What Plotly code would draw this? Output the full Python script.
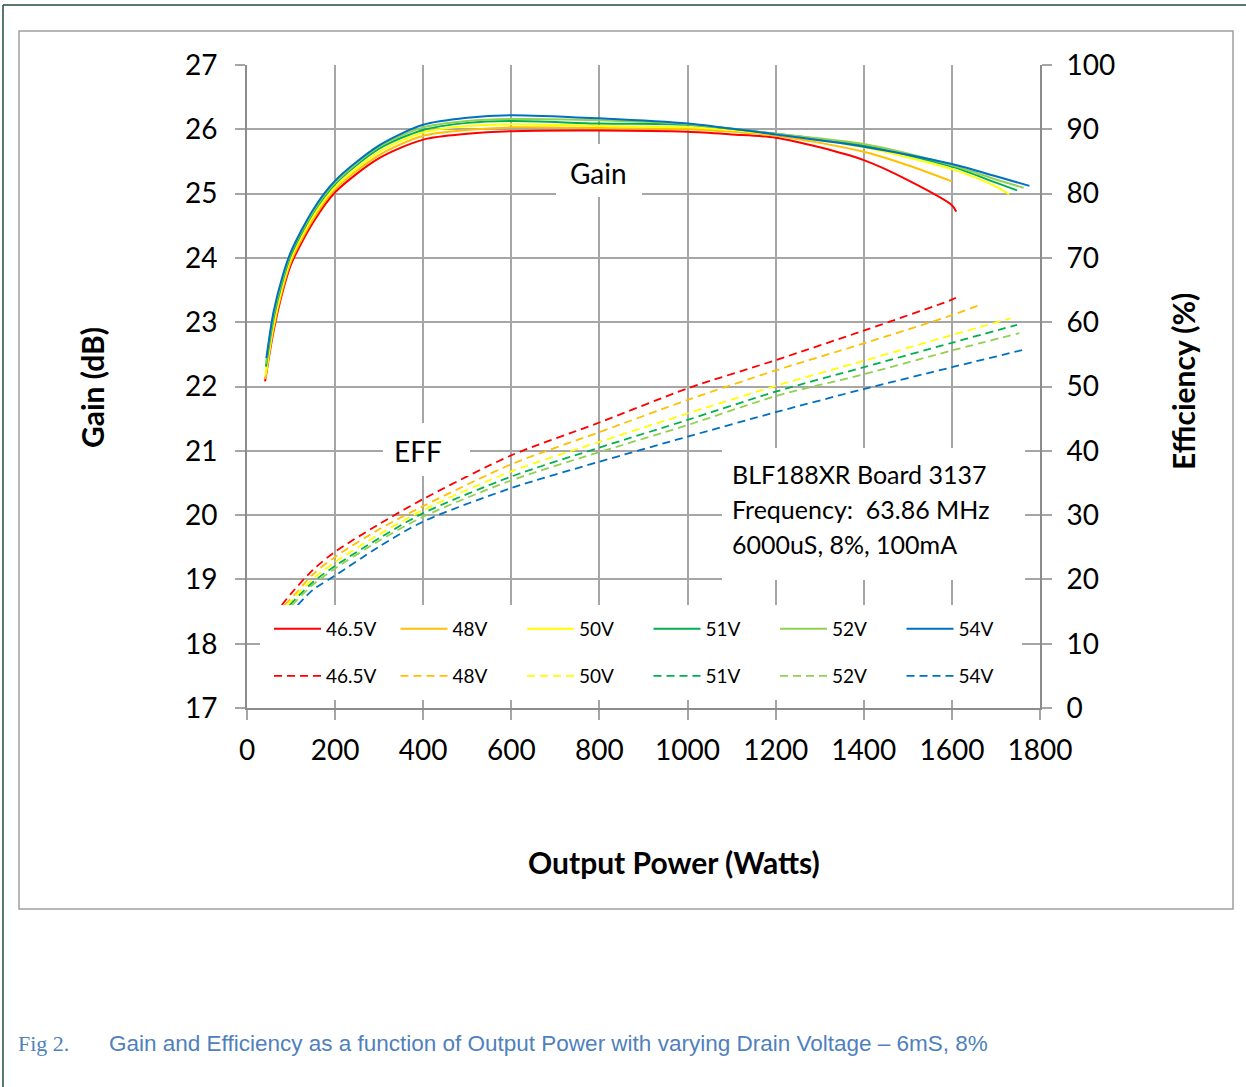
import plotly.graph_objects as go

# ---------------- data ----------------
voltages = ["46.5V", "48V", "50V", "51V", "52V", "54V"]
colors = ["#FF0000", "#FFC000", "#FFFF00", "#00B050", "#92D050", "#0070C0"]

# Gain (dB) vs output power (W)
gain_x_465 = [41, 60, 80, 100, 150, 200, 300, 400, 500, 600, 800, 1000, 1100, 1200, 1300, 1400, 1500, 1600, 1610]
gain_y_465 = [22.08, 22.85, 23.45, 23.90, 24.55, 25.02, 25.55, 25.84, 25.93, 25.97, 25.98, 25.96, 25.92, 25.87, 25.72, 25.52, 25.21, 24.82, 24.72]
gain_x_48 = [42, 60, 80, 100, 150, 200, 300, 400, 500, 600, 800, 1000, 1200, 1400, 1500, 1600]
gain_y_48 = [22.12, 22.90, 23.50, 23.95, 24.60, 25.07, 25.60, 25.90, 25.99, 26.03, 26.02, 26.00, 25.90, 25.65, 25.44, 25.19]
gain_x_50 = [42, 60, 80, 100, 150, 200, 300, 400, 500, 600, 800, 1000, 1200, 1400, 1600, 1700, 1730]
gain_y_50 = [22.18, 22.95, 23.55, 24.00, 24.65, 25.10, 25.65, 25.95, 26.05, 26.08, 26.05, 26.03, 25.92, 25.72, 25.38, 25.11, 24.99]
gain_x_51 = [43, 60, 80, 100, 150, 200, 300, 400, 500, 600, 800, 1000, 1200, 1400, 1600, 1700, 1748]
gain_y_51 = [22.31, 23.05, 23.62, 24.05, 24.70, 25.15, 25.70, 25.99, 26.10, 26.13, 26.09, 26.07, 25.93, 25.75, 25.42, 25.17, 25.05]
gain_x_52 = [43, 60, 80, 100, 150, 200, 300, 400, 500, 600, 800, 1000, 1200, 1400, 1600, 1700, 1763]
gain_y_52 = [22.36, 23.10, 23.66, 24.08, 24.72, 25.17, 25.73, 26.03, 26.13, 26.16, 26.14, 26.08, 25.93, 25.77, 25.44, 25.22, 25.09]
gain_x_54 = [44, 60, 80, 100, 150, 200, 300, 400, 500, 600, 800, 1000, 1200, 1400, 1600, 1700, 1776]
gain_y_54 = [22.44, 23.15, 23.70, 24.10, 24.75, 25.20, 25.75, 26.07, 26.18, 26.22, 26.17, 26.09, 25.92, 25.73, 25.46, 25.27, 25.12]

# Efficiency (%) vs output power (W)
eff_x_465 = [79, 100, 150, 200, 300, 400, 600, 800, 1000, 1200, 1400, 1600, 1609]
eff_y_465 = [16.0, 17.8, 21.5, 24.3, 28.6, 32.5, 39.3, 44.4, 49.7, 54.1, 58.7, 63.5, 63.8]
eff_x_48 = [85, 100, 150, 200, 300, 400, 600, 800, 1000, 1200, 1400, 1600, 1664]
eff_y_48 = [16.0, 17.0, 20.8, 23.5, 27.8, 31.4, 37.9, 42.9, 47.9, 52.5, 56.7, 61.1, 62.7]
eff_x_50 = [92, 100, 150, 200, 300, 400, 600, 800, 1000, 1200, 1400, 1600, 1733]
eff_y_50 = [16.0, 16.6, 20.1, 22.7, 27.0, 30.8, 36.8, 41.4, 45.8, 50.1, 54.0, 58.0, 60.6]
eff_x_51 = [97, 150, 200, 300, 400, 600, 800, 1000, 1200, 1400, 1600, 1748]
eff_y_51 = [16.0, 19.6, 22.1, 26.4, 30.3, 36.0, 40.5, 44.8, 49.2, 53.0, 56.8, 59.6]
eff_x_52 = [102, 150, 200, 300, 400, 600, 800, 1000, 1200, 1400, 1600, 1753]
eff_y_52 = [16.0, 19.2, 21.7, 26.0, 29.75, 35.4, 39.8, 44.0, 48.5, 51.9, 55.6, 58.3]
eff_x_54 = [115, 150, 200, 300, 400, 600, 800, 1000, 1200, 1400, 1600, 1768]
eff_y_54 = [16.0, 18.4, 20.6, 25.1, 29.0, 34.2, 38.3, 42.2, 46.0, 49.6, 53.0, 55.8]

gain_x = [gain_x_465, gain_x_48, gain_x_50, gain_x_51, gain_x_52, gain_x_54]
gain_y = [gain_y_465, gain_y_48, gain_y_50, gain_y_51, gain_y_52, gain_y_54]
eff_x = [eff_x_465, eff_x_48, eff_x_50, eff_x_51, eff_x_52, eff_x_54]
eff_y = [eff_y_465, eff_y_48, eff_y_50, eff_y_51, eff_y_52, eff_y_54]

x_ticks = [0, 200, 400, 600, 800, 1000, 1200, 1400, 1600, 1800]
gain_ticks = list(range(17, 28))
eff_ticks = list(range(0, 101, 10))

# ---------------- layout geometry (pixels) ----------------
W, H = 1246, 1087
PL, PR, PT, PB = 247, 1040, 65, 708   # plot area edges in px


def X(px):
    return (px - PL) / (PR - PL)


def Y(py):
    return (PB - py) / (PB - PT)


FONT = "Lato"
GRID = "#A6A6A6"
AXIS = "#8C8C8C"

fig = go.Figure()

for i in range(6):
    fig.add_trace(go.Scatter(
        x=gain_x[i], y=gain_y[i], mode="lines", name=voltages[i],
        line=dict(color=colors[i], width=2, shape="spline", smoothing=0.8),
        legend="legend", yaxis="y", showlegend=True, hoverinfo="skip"))

for i in range(6):
    fig.add_trace(go.Scatter(
        x=eff_x[i], y=eff_y[i], mode="lines", name=voltages[i],
        line=dict(color=colors[i], width=1.8, dash="8px,5px", shape="spline", smoothing=0.8),
        legend="legend2", yaxis="y2", showlegend=True, hoverinfo="skip"))

tickfont = dict(family=FONT, size=28, color="black")
legfont = dict(family=FONT, size=19, color="black")

fig.update_layout(
    width=W, height=H,
    margin=dict(l=PL, r=W - PR, t=PT, b=H - PB, pad=0),
    paper_bgcolor="white", plot_bgcolor="white",
    xaxis=dict(range=[0, 1800], tickvals=x_ticks, showgrid=True, gridcolor=GRID, gridwidth=1.5,
               zeroline=False, showline=True, linecolor=AXIS, linewidth=2,
               ticks="outside", ticklen=10, tickcolor=GRID, tickwidth=1.5,
               tickfont=tickfont, ticklabelstandoff=6),
    yaxis=dict(range=[17, 27], tickvals=gain_ticks, showgrid=True, gridcolor=GRID, gridwidth=1.5,
               zeroline=False, showline=True, linecolor=AXIS, linewidth=2,
               ticks="outside", ticklen=10, tickcolor=GRID, tickwidth=1.5,
               tickfont=tickfont, ticklabelstandoff=12),
    yaxis2=dict(range=[0, 100], tickvals=eff_ticks, overlaying="y", side="right",
                showgrid=False, zeroline=False, showline=True, linecolor=AXIS, linewidth=2,
                ticks="outside", ticklen=10, tickcolor=GRID, tickwidth=1.5,
                tickfont=tickfont, ticklabelstandoff=9),
    legend=dict(orientation="h", x=X(269), y=Y(629), xanchor="left", yanchor="middle",
                bgcolor="rgba(0,0,0,0)", font=legfont,
                itemwidth=47, entrywidth=64.5, entrywidthmode="pixels", itemclick=False),
    legend2=dict(orientation="h", x=X(269), y=Y(676), xanchor="left", yanchor="middle",
                 bgcolor="rgba(0,0,0,0)", font=legfont,
                 itemwidth=47, entrywidth=64.5, entrywidthmode="pixels", itemclick=False),
    showlegend=True,
)

# white boxes (legend area, text boxes) that hide the grid like in the reference
boxes = [(260, 605, 1022, 700), (722, 448, 1025, 580), (556, 144, 642, 197), (383, 423, 470, 476)]
for (x0, y0, x1, y1) in boxes:
    fig.add_shape(type="rect", xref="paper", yref="paper", x0=X(x0), x1=X(x1), y0=Y(y1), y1=Y(y0),
                  fillcolor="white", line=dict(width=0), layer="above")

# chart frame and page border
fig.add_shape(type="rect", xref="paper", yref="paper", x0=X(19), x1=X(1233), y0=Y(909), y1=Y(31),
              line=dict(color="#A0A0A0", width=1.5), fillcolor="rgba(0,0,0,0)", layer="below")
fig.add_shape(type="line", xref="paper", yref="paper", x0=X(3), x1=X(1250), y0=Y(5), y1=Y(5),
              line=dict(color="#1E4D40", width=1.5))
fig.add_shape(type="line", xref="paper", yref="paper", x0=X(3), x1=X(3), y0=Y(5), y1=Y(1090),
              line=dict(color="#1E4D40", width=1.5))

ann = []
ann.append(dict(text="Gain", x=X(598), y=Y(173), font=dict(family=FONT, size=28, color="black")))
ann.append(dict(text="EFF", x=X(418), y=Y(451), font=dict(family=FONT, size=28, color="black")))
for txt, py in [("BLF188XR Board 3137", 474), ("Frequency:  63.86 MHz", 509), ("6000uS, 8%, 100mA", 544)]:
    ann.append(dict(text=txt, x=X(730), y=Y(py), xanchor="left",
                    font=dict(family=FONT, size=25, color="black")))
ann.append(dict(text="<b>Output Power (Watts)</b>", x=X(674), y=Y(862),
                font=dict(family=FONT, size=30, color="black")))
ann.append(dict(text="<b>Gain (dB)</b>", x=X(92), y=Y(388), textangle=-90,
                font=dict(family=FONT, size=30, color="black")))
ann.append(dict(text="<b>Efficiency (%)</b>", x=X(1183), y=Y(382), textangle=-90,
                font=dict(family=FONT, size=30, color="black")))
ann.append(dict(text="Fig 2.", x=X(16), y=Y(1043), xanchor="left",
                font=dict(family="Liberation Serif", size=22, color="#4F81BD")))
ann.append(dict(text="Gain and Efficiency as a function of Output Power with varying Drain Voltage \u2013 6mS, 8%",
                x=X(107), y=Y(1043), xanchor="left",
                font=dict(family="Liberation Sans", size=22.5, color="#4F81BD")))
for a in ann:
    a.setdefault("xanchor", "center")
    a.update(xref="paper", yref="paper", yanchor="middle", showarrow=False)
    fig.add_annotation(**a)

fig.write_html("out.html", config={"displayModeBar": False},
               post_script="document.body.style.margin='0';")
